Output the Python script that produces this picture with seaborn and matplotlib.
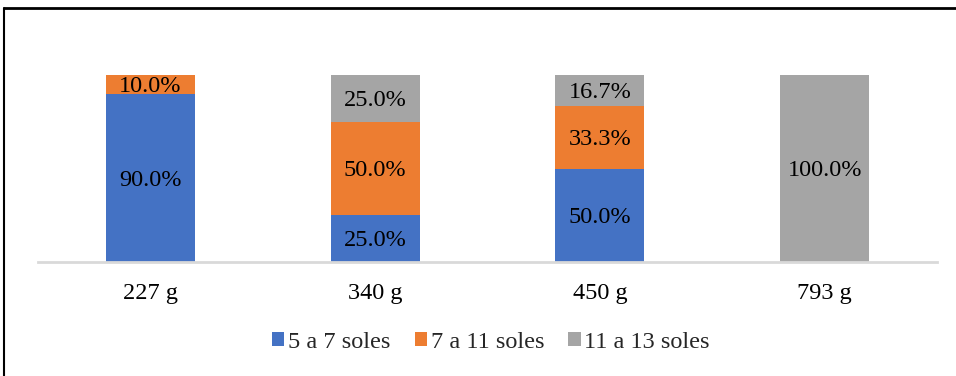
import matplotlib
matplotlib.use("Agg")
import matplotlib.pyplot as plt
import seaborn as sns
import pandas as pd
import numpy as np
from matplotlib.patches import Patch
from matplotlib.lines import Line2D

categories = ["227 g", "340 g", "450 g", "793 g"]
series_names = ["5 a 7 soles", "7 a 11 soles", "11 a 13 soles"]
s1 = [0.90, 0.25, 0.50, 0.0]
s2 = [0.10, 0.50, 0.333, 0.0]
s3 = [0.0, 0.25, 0.167, 1.0]
colors = ["#4472C4", "#ED7D31", "#A5A5A5"]

sns.set_theme(style="white")
plt.rcParams['font.family'] = ['Liberation Serif', 'DejaVu Serif']

FS = 17.5
W, H = 956, 376
fig = plt.figure(figsize=(W/100, H/100), dpi=100)
ax = fig.add_axes([38/W, (H-262)/H, (937-38)/W, (262-75)/H])

series = [s1, s2, s3]
bottom = np.zeros(len(categories))
for name, vals, col in zip(series_names, series, colors):
    df = pd.DataFrame({"cat": categories, "val": vals})
    sns.barplot(data=df, x="cat", y="val", color=col, width=0.396,
                bottom=bottom, ax=ax, saturation=1, edgecolor="none")
    for i, v in enumerate(vals):
        if v > 0:
            ax.text(i, bottom[i] + v/2 - 0.012, f"{v*100:.1f}%", ha="center", va="center",
                    fontsize=FS, color="#000000")
    bottom = bottom + np.array(vals)

ax.set_xlim(-0.5, 3.5)
ax.set_ylim(0, 1)
ax.set_xlabel("")
ax.set_ylabel("")
ax.set_yticks([])
for s in ["top", "right", "left"]:
    ax.spines[s].set_visible(False)
ax.spines["bottom"].set_color("#D9D9D9")
ax.spines["bottom"].set_linewidth(2)
ax.tick_params(axis="x", length=0, pad=15, labelsize=FS, colors="#000000")

handles = [Patch(facecolor=c, edgecolor="none") for c in colors]
fig.legend(handles, series_names, loc="center", bbox_to_anchor=(491/W, 1-342/H),
           ncol=3, frameon=False, fontsize=FS, handlelength=0.5, handleheight=0.5,
           handletextpad=0.15, columnspacing=1.0)

# figure border (top and left)
fig.add_artist(Line2D([4/W, 1], [1-8/H, 1-8/H], color="black", lw=2, transform=fig.transFigure))
fig.add_artist(Line2D([4/W, 4/W], [0, 1-8/H], color="black", lw=1.5, transform=fig.transFigure))

fig.savefig("out.png", dpi=100, facecolor="white")
